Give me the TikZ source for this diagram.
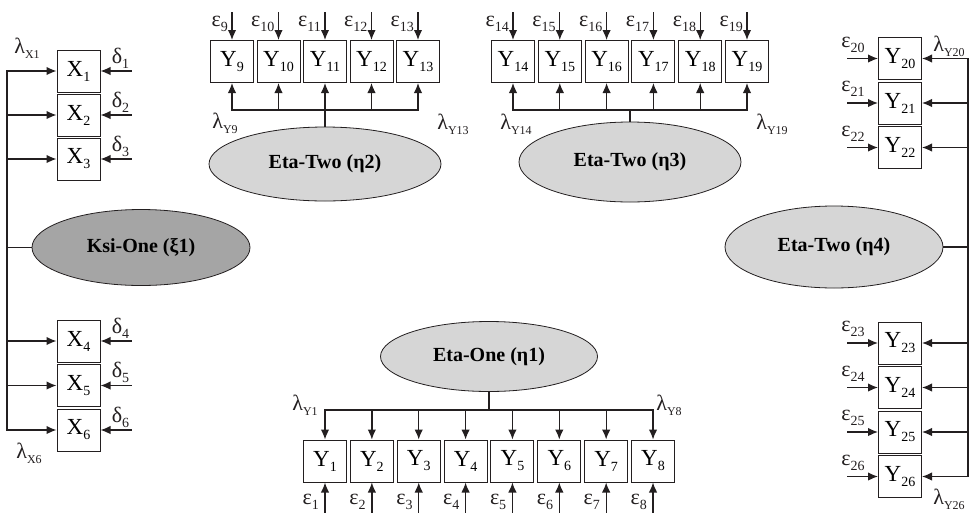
\documentclass[tikz,border=0pt]{standalone}
\usepackage{fontspec}
\setmainfont{Liberation Serif}
\usetikzlibrary{arrows.meta,shapes.geometric}
\definecolor{latl}{RGB}{214,214,214}
\definecolor{latd}{RGB}{165,165,165}
\definecolor{inkc}{RGB}{35,31,32}
\newcommand\lowsub[2][14]{\raisebox{-5pt}{\fontsize{#1}{#1}\selectfont #2}}
\tikzset{
  box/.style={draw=inkc, line width=1pt, minimum width=43pt, minimum height=42pt, inner sep=0pt, font=\fontsize{23}{23}\selectfont},
  lat/.style={ellipse, draw=inkc, line width=0.8pt, fill=latl, inner sep=0pt, font=\bfseries\fontsize{20}{20}\selectfont},
  arr/.style={draw=inkc, line width=1.3pt, -{Latex[length=10pt,width=8.5pt]}},
  ln/.style={draw=inkc, line width=1.3pt, line cap=rect},
  glab/.style={text=inkc, inner sep=0pt, font=\fontsize{22}{22}\selectfont}
}
\begin{document}
\begin{tikzpicture}[x=1pt,y=-1pt]
\useasboundingbox (0,0) rectangle (974,512);

% ---------------- Ksi-One and X indicators
\foreach \i/\y in {1/71,2/115,3/159,4/341,5/385.5,6/430}
  \node[box] (X\i) at (78.5,\y) {X\lowsub{\i}};
\node[lat, fill=latd, minimum width=218pt, minimum height=76pt] (ksi) at (141,247.5) {Ksi-One (ξ1)};
\coordinate (lb) at (7,247.5);
\draw[ln] (ksi.west) -- (lb);
\draw[ln] (lb|-X1) -- (lb|-X6);
\foreach \i in {1,...,6} {
  \draw[arr] (lb|-X\i) -- (X\i.west);
  \coordinate (dx\i) at ([xshift=31pt]X\i.east);
  \draw[arr] (dx\i) -- (X\i.east);
  \node[glab] (d\i) at ([xshift=20pt,yshift=13pt]X\i.east) {δ\lowsub{\i}};
}
\node[glab] (lx1) at (27,48) {λ\lowsub[12]{X1}};
\node[glab] (lx6) at (29,453) {λ\lowsub[12]{X6}};

% ---------------- Eta-Two (eta2), Y9-Y13
\foreach \i [count=\k from 0] in {9,...,13}
  \node[box] (Y\i) at ({232+46.5*\k},61.5) {Y\lowsub{\i}};
\node[lat, minimum width=232pt, minimum height=74pt] (e2) at (325,164) {Eta-Two (η2)};
\coordinate (b2) at (325,110);
\draw[ln] (e2.north) -- (b2);
\draw[ln] (b2-|Y9) -- (b2-|Y13);
\foreach \i in {9,...,13} {
  \draw[arr] (b2-|Y\i) -- (Y\i.south);
  \coordinate (ex\i) at ([yshift=28pt]Y\i.north);
  \draw[arr] (ex\i) -- (Y\i.north);
  \node[glab, anchor=east] (ep\i) at ([xshift=-4pt,yshift=16pt]Y\i.north) {ε\lowsub{\i}};
}
\node[glab] (ly9) at (225,123) {λ\lowsub[12]{Y9}};
\node[glab] (ly13) at (453,124) {λ\lowsub[12]{Y13}};

% ---------------- Eta-Two (eta3), Y14-Y19
\foreach \i [count=\k from 0] in {14,...,19}
  \node[box] (Y\i) at ({513+46.8*\k},61.5) {Y\lowsub{\i}};
\node[lat, minimum width=222pt, minimum height=80pt] (e3) at (630,162) {Eta-Two (η3)};
\coordinate (b3) at (630,110);
\draw[ln] (e3.north) -- (b3);
\draw[ln] (b3-|Y14) -- (b3-|Y19);
\foreach \i in {14,...,19} {
  \draw[arr] (b3-|Y\i) -- (Y\i.south);
  \coordinate (ex\i) at ([yshift=28pt]Y\i.north);
  \draw[arr] (ex\i) -- (Y\i.north);
  \node[glab, anchor=east] (ep\i) at ([xshift=-4pt,yshift=16pt]Y\i.north) {ε\lowsub{\i}};
}
\node[glab] (ly14) at (516,124) {λ\lowsub[12]{Y14}};
\node[glab] (ly19) at (772,124) {λ\lowsub[12]{Y19}};

% ---------------- Eta-Two (eta4), Y20-Y26
\foreach \i/\y in {20/58.5,21/103,22/147.5,23/343,24/387.5,25/432,26/476.5}
  \node[box] (Y\i) at (900,\y) {Y\lowsub{\i}};
\node[lat, minimum width=218pt, minimum height=82pt] (e4) at (834,247) {Eta-Two (η4)};
\coordinate (rb) at (968,247);
\draw[ln] (e4.east) -- (rb);
\draw[ln] (rb|-Y20) -- (rb|-Y26);
\foreach \i in {20,...,26} {
  \draw[arr] (rb|-Y\i) -- (Y\i.east);
  \coordinate (ex\i) at ([xshift=-31pt]Y\i.west);
  \draw[arr] (ex\i) -- (Y\i.west);
  \node[glab] (ep\i) at ([xshift=-25pt,yshift=14pt]Y\i.west) {ε\lowsub{\i}};
}
\node[glab] (ly20) at (949,46) {λ\lowsub[12]{Y20}};
\node[glab] (ly26) at (949,499) {λ\lowsub[12]{Y26}};

% ---------------- Eta-One (eta1), Y1-Y8
\foreach \i [count=\k from 0] in {1,...,8}
  \node[box] (Y\i) at ({325+46.86*\k},461) {Y\lowsub{\i}};
\node[lat, minimum width=217pt, minimum height=70pt] (e1) at (489,356.5) {Eta-One (η1)};
\coordinate (b1) at (489,410);
\draw[ln] (e1.south) -- (b1);
\draw[ln] (b1-|Y1) -- (b1-|Y8);
\foreach \i in {1,...,8} {
  \draw[arr] (b1-|Y\i) -- (Y\i.north);
  \coordinate (ex\i) at ([yshift=-30pt]Y\i.south);
  \draw[arr] (ex\i) -- (Y\i.south);
  \node[glab, anchor=east] (ep\i) at ([xshift=-6pt,yshift=-19pt]Y\i.south) {ε\lowsub{\i}};
}
\node[glab] (ly1) at (305,405) {λ\lowsub[12]{Y1}};
\node[glab] (ly8) at (669,405) {λ\lowsub[12]{Y8}};
\end{tikzpicture}
\end{document}
